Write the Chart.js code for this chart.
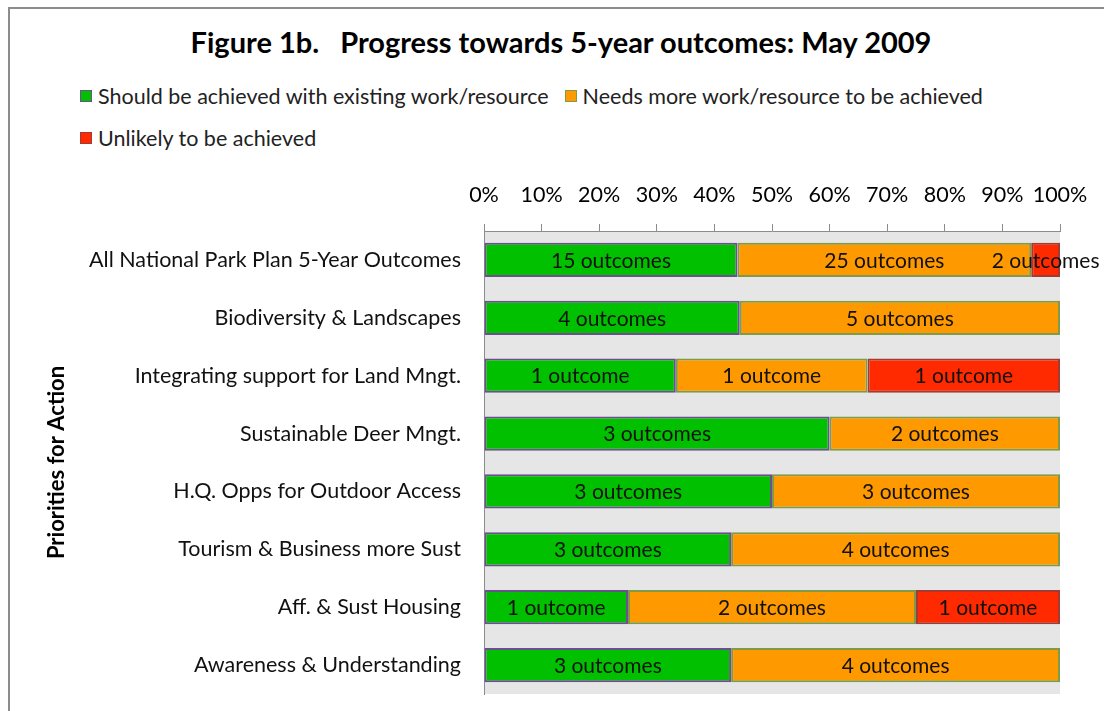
<!DOCTYPE html>
<html>
<head>
<meta charset="utf-8">
<title>Progress towards 5-year outcomes</title>
<script src="https://cdn.jsdelivr.net/npm/chart.js@4.4.1/dist/chart.umd.min.js"></script>
<style>
  html, body { margin: 0; padding: 0; background: #fff; overflow: hidden; }
  #wrap { position: relative; width: 1104px; height: 711px; }
  #frame {
    position: absolute; left: 8px; top: 7px; width: 1200px; height: 800px;
    border-left: 2px solid #8c8c8c; border-top: 2px solid #8c8c8c;
  }
  #title {
    position: absolute; top: 24px; left: 0; width: 1122px; text-align: center;
    font: bold 29px Lato, sans-serif; color: #000; white-space: pre;
  }
  #legendContainer { position: absolute; left: 80px; top: 75px; width: 960px; }
  #legendContainer ul { list-style: none; display: flex; flex-wrap: wrap; margin: 0; padding: 0; }
  #legendContainer li {
    display: flex; align-items: center; height: 42px; margin-right: 16px;
    font: 21.5px Lato, sans-serif; color: #222;
  }
  #legendContainer .box { width: 10px; height: 10px; margin-right: 6px; border: 1px solid; }
  #chartBox { position: absolute; left: 0; top: 0; width: 1104px; height: 711px; }
</style>
</head>
<body>
<div id="wrap">
  <div id="frame"></div>
  <div id="title">Figure 1b.   Progress towards 5-year outcomes: May 2009</div>
  <div id="legendContainer"></div>
  <div id="chartBox"><canvas id="chartDestination"></canvas></div>
</div>
<script>
// categories, top to bottom
const categories = [
  "All National Park Plan 5-Year Outcomes",
  "Biodiversity & Landscapes",
  "Integrating support for Land Mngt.",
  "Sustainable Deer Mngt.",
  "H.Q. Opps for Outdoor Access",
  "Tourism & Business more Sust",
  "Aff. & Sust Housing",
  "Awareness & Understanding"
];

const seriesNames = [
  "Should be achieved with existing work/resource",
  "Needs more work/resource to be achieved",
  "Unlikely to be achieved"
];

// share of outcomes (%)
const existingPct = [44, 44.4, 33.3, 60, 50, 42.9, 25, 42.9];
const morePct = [51, 55.6, 33.3, 40, 50, 57.1, 50, 57.1];
const unlikelyPct = [5, null, 33.4, null, null, null, 25, null];

// text printed in each segment
const existingLabels = ["15 outcomes", "4 outcomes", "1 outcome", "3 outcomes", "3 outcomes", "3 outcomes", "1 outcome", "3 outcomes"];
const moreLabels = ["25 outcomes", "5 outcomes", "1 outcome", "2 outcomes", "3 outcomes", "4 outcomes", "2 outcomes", "4 outcomes"];
const unlikelyLabels = ["2 outcomes", "", "1 outcome", "", "", "", "1 outcome", ""];

const xTicks = [0, 10, 20, 30, 40, 50, 60, 70, 80, 90, 100];

const fillColors = ["#00c000", "#ff9900", "#ff2a00"];
const edgeColors = ["#6b4f8e", "#7f9a48", "#a33b35"];
const FONT = "Lato, sans-serif";
const TEXT_SIZE = 21.5;

const htmlLegendPlugin = {
  id: "htmlLegend",
  afterUpdate(chart, args, options) {
    const container = document.getElementById(options.containerID);
    let ul = container.querySelector("ul");
    if (!ul) {
      ul = document.createElement("ul");
      container.appendChild(ul);
    }
    while (ul.firstChild) ul.firstChild.remove();

    chart.data.datasets.forEach((ds) => {
      const li = document.createElement("li");
      const box = document.createElement("span");
      box.className = "box";
      box.style.background = ds.backgroundColor;
      box.style.borderColor = ds.borderColor;
      li.appendChild(box);
      li.appendChild(document.createTextNode(ds.label));
      ul.appendChild(li);
    });
  }
};

// grey plot area
const plotBackground = {
  id: "plotBackground",
  beforeDraw(chart) {
    const { ctx, chartArea } = chart;
    ctx.save();
    ctx.fillStyle = "#e6e6e6";
    ctx.fillRect(chartArea.left, chartArea.top, chartArea.right - chartArea.left, chartArea.bottom - chartArea.top);
    ctx.restore();
  }
};

// "n outcomes" text centred in each segment
const segmentLabels = {
  id: "segmentLabels",
  afterDatasetsDraw(chart) {
    const ctx = chart.ctx;
    ctx.save();
    ctx.font = (TEXT_SIZE - 0.5) + "px " + FONT;
    ctx.fillStyle = "#111";
    ctx.textAlign = "center";
    ctx.textBaseline = "middle";
    chart.data.datasets.forEach((ds, i) => {
      const meta = chart.getDatasetMeta(i);
      meta.data.forEach((bar, j) => {
        const text = ds.outcomeLabels[j];
        if (!text || ds.data[j] == null) return;
        const { x, y } = bar.getCenterPoint();
        ctx.fillText(text, x, y + 1);
      });
    });
    ctx.restore();
  }
};

function makeDataset(i, data, labels) {
  return {
    label: seriesNames[i],
    data: data,
    outcomeLabels: labels,
    backgroundColor: fillColors[i],
    borderColor: edgeColors[i],
    borderWidth: 2,
    borderSkipped: false,
    categoryPercentage: 1,
    barPercentage: 0.59
  };
}

Chart.defaults.maintainAspectRatio = false;
Chart.defaults.font.family = FONT;
Chart.defaults.font.size = TEXT_SIZE;
Chart.defaults.color = "#000";

const ctx = document.getElementById("chartDestination");
const chart = new Chart(ctx, {
  type: "bar",
  data: {
    labels: categories,
    datasets: [
      makeDataset(0, existingPct, existingLabels),
      makeDataset(1, morePct, moreLabels),
      makeDataset(2, unlikelyPct, unlikelyLabels)
    ]
  },
  options: {
    indexAxis: "y",
    animation: false,
    responsive: true,
    layout: { padding: { top: 171, right: 44, bottom: 17, left: 0 } },
    scales: {
      x: {
        position: "top",
        stacked: true,
        min: 0,
        max: 100,
        afterBuildTicks(scale) {
          scale.ticks = xTicks.map((v) => ({ value: v }));
        },
        ticks: { callback: (v) => v + "%", padding: 16, color: "#000", maxRotation: 0, autoSkip: false },
        grid: { drawOnChartArea: false, tickLength: 7, color: "#8c8c8c" },
        border: { color: "#8c8c8c" },
        afterFit(scale) {
          scale.height = 60;
          scale.paddingLeft = 0;
          scale.paddingRight = 0;
        }
      },
      y: {
        stacked: true,
        grid: { display: false },
        border: { display: true, color: "#8c8c8c" },
        ticks: { padding: 15, color: "#111" },
        title: {
          display: true,
          text: "Priorities for Action",
          color: "#000",
          font: { size: 22, weight: "bold" },
          padding: { top: 44, bottom: 0 }
        },
        afterFit(scale) {
          scale.width = 484;
          scale.paddingTop = 0;
          scale.paddingBottom = 0;
        }
      }
    },
    plugins: {
      legend: { display: false },
      tooltip: { enabled: false },
      htmlLegend: { containerID: "legendContainer" }
    }
  },
  plugins: [plotBackground, segmentLabels, htmlLegendPlugin]
});
</script>
</body>
</html>
